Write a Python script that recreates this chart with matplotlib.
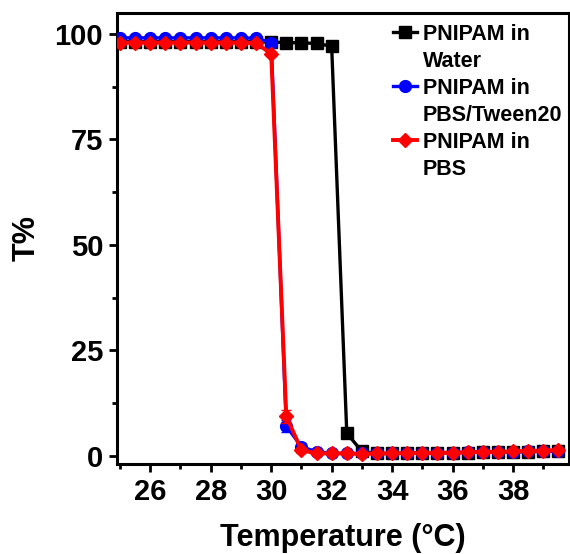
import matplotlib
matplotlib.use("Agg")
import matplotlib.pyplot as plt
from matplotlib.lines import Line2D
from matplotlib.ticker import MultipleLocator

plt.rcParams['font.family'] = ['Liberation Sans', 'DejaVu Sans']
plt.rcParams['font.weight'] = 'bold'

temperature = [25.0, 25.5, 26.0, 26.5, 27.0, 27.5, 28.0, 28.5, 29.0, 29.5,
               30.0, 30.5, 31.0, 31.5, 32.0, 32.5, 33.0, 33.5, 34.0, 34.5,
               35.0, 35.5, 36.0, 36.5, 37.0, 37.5, 38.0, 38.5, 39.0, 39.5]

water = [98.2, 98.2, 98.2, 98.2, 98.2, 98.2, 98.2, 98.2, 98.2, 98.2,
         98.1, 98.0, 97.9, 97.8, 97.1, 5.3, 1.0, 0.5, 0.5, 0.6,
         0.6, 0.6, 0.7, 0.7, 0.8, 0.8, 0.9, 0.9, 1.0, 1.0]

tween = [99.1, 99.1, 99.1, 99.1, 99.1, 99.1, 99.1, 99.1, 99.1, 99.0,
         98.0, 7.0, 2.1, 0.9, 0.6, 0.5, 0.5, 0.5, 0.5, 0.6,
         0.6, 0.7, 0.7, 0.8, 0.8, 0.9, 0.9, 1.0, 1.0, 1.1]

pbs = [98.0, 98.0, 98.0, 98.0, 98.0, 98.0, 98.0, 98.0, 98.0, 97.9,
       95.3, 9.3, 1.3, 0.5, 0.5, 0.5, 0.4, 0.5, 0.5, 0.6,
       0.6, 0.7, 0.7, 0.8, 0.9, 0.9, 1.0, 1.1, 1.2, 1.3]

tween_err = [0.3]*10 + [0.6, 1.5, 0.8] + [0.2]*17
pbs_err = [0.3]*10 + [0.6, 1.5, 0.6] + [0.2]*17

labels = [('PNIPAM in', 'Water'), ('PNIPAM in', 'PBS/Tween20'), ('PNIPAM in', 'PBS')]

fig = plt.figure(figsize=(5.70, 5.54), dpi=100)
ax = fig.add_axes([117/570, 1 - 464/554, 452/570, 451/554])

h1, = ax.plot(temperature, water, color='black', marker='s', ms=8, lw=2.4, zorder=3)
ax.errorbar(temperature, tween, yerr=tween_err, fmt='none', ecolor='#0000FF',
            capsize=3.5, elinewidth=1.5, zorder=4)
h2, = ax.plot(temperature, tween, color='#0000FF', marker='o', ms=8.5, lw=2.4, zorder=4)
ax.errorbar(temperature, pbs, yerr=pbs_err, fmt='none', ecolor='#FF0000',
            capsize=3.5, elinewidth=1.5, zorder=5)
h3, = ax.plot(temperature, pbs, color='#FF0000', marker='D', ms=7.5, lw=2.8, zorder=5)

ax.set_xlim(24.9, 39.85)
ax.set_ylim(-2, 105)
ax.xaxis.set_major_locator(MultipleLocator(2))
ax.xaxis.set_minor_locator(MultipleLocator(1))
ax.yaxis.set_major_locator(MultipleLocator(25))
ax.yaxis.set_minor_locator(MultipleLocator(12.5))

for s in ax.spines.values():
    s.set_linewidth(2.2)
ax.tick_params(which='major', direction='out', length=6, width=2, labelsize=21, pad=4)
ax.tick_params(which='minor', direction='out', length=3.5, width=2)
for lab in ax.get_xticklabels() + ax.get_yticklabels():
    lab.set_fontweight('bold')

ax.set_xlabel('Temperature (°C)', fontsize=22, fontweight='bold', labelpad=12)
ax.set_ylabel('T%', fontsize=22, fontweight='bold', labelpad=9)

blank = Line2D([], [], linestyle='none', marker='none')
handles, texts = [], []
for h, (a, b) in zip([h1, h2, h3], labels):
    handles += [h, blank]
    texts += [a, b]

leg = ax.legend(handles, texts, loc='upper left', bbox_to_anchor=(0.582, 1.005),
                frameon=False, fontsize=15.5, handlelength=1.1, handletextpad=0.3,
                labelspacing=0.28, borderaxespad=0.2)
for t in leg.get_texts():
    t.set_fontweight('bold')

fig.savefig('out.png', dpi=100)
